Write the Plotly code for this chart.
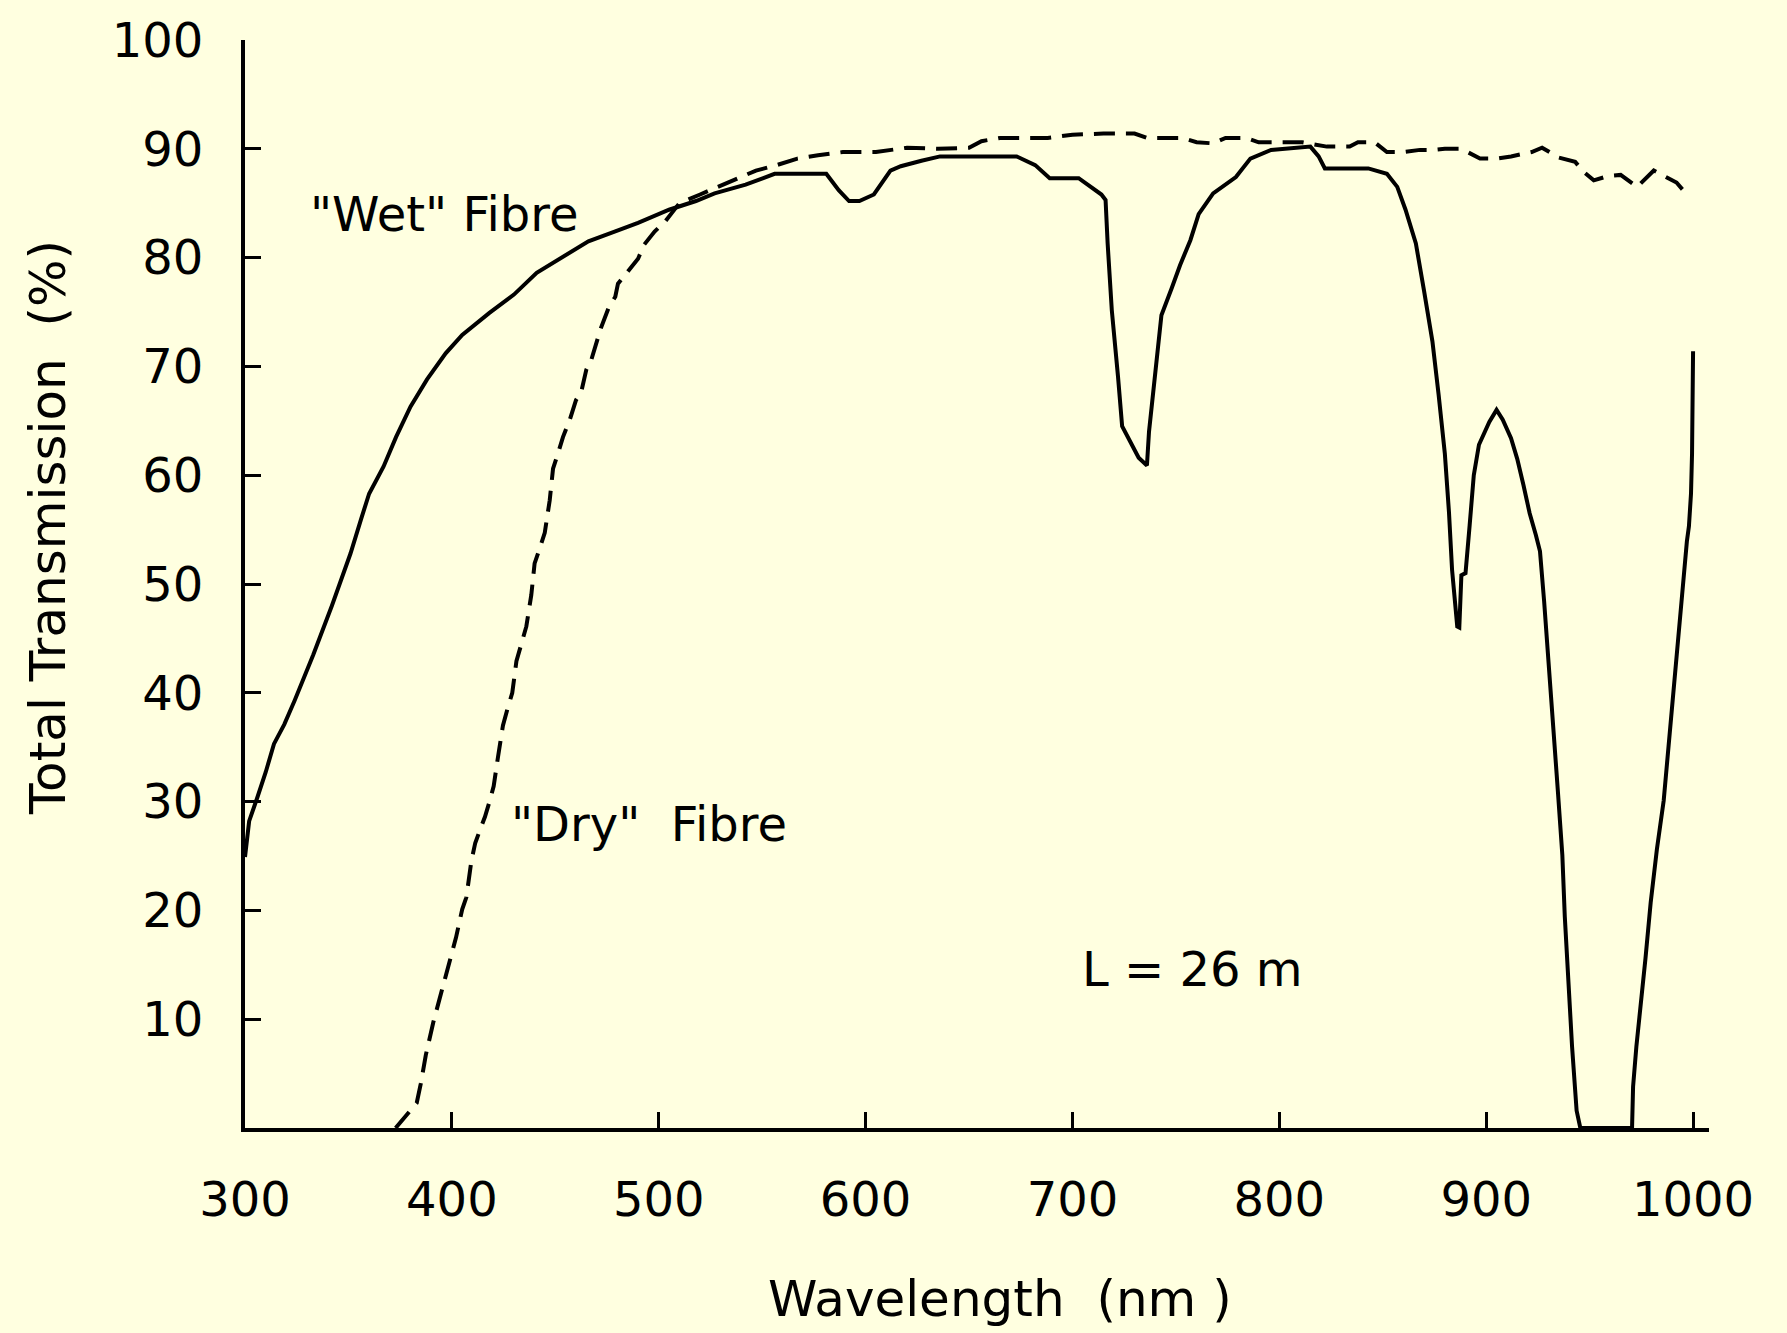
import plotly.graph_objects as go

# Wavelength (nm) and total transmission (%)
wet_nm = [300, 302, 306, 310, 314, 319, 324, 333, 342, 351, 356, 360, 367, 373, 380, 388, 397,
          405, 418, 430, 441, 454, 466, 479, 490, 505, 518, 527, 542, 556, 581, 587, 592, 597,
          604, 612, 617, 627, 636, 673, 682, 689, 703, 714, 716, 717, 719, 722, 724, 732, 736,
          737, 739, 741, 743, 748, 752, 757, 761, 768, 779, 786, 796, 815, 819, 822, 843, 852,
          857, 861, 866, 870, 874, 877, 880, 882, 883.5, 886, 887, 888, 890, 892, 894, 896.5,
          899, 901.5, 905, 908, 912, 915, 918, 921, 924, 926, 928, 930, 932.5, 934.7, 936.8,
          938, 939.5, 941.5, 943.7, 945.5, 970.5, 971, 972.6, 974.8, 977, 979.5, 982.5, 985.8,
          988, 990.3, 992.5, 994.7, 997, 998, 999, 999.5, 1000]
wet_pct = [24.9, 28.2, 30.4, 32.7, 35.3, 37.1, 39.3, 43.5, 48.0, 52.8, 55.9, 58.3, 60.8, 63.5,
           66.3, 68.8, 71.2, 72.9, 74.9, 76.6, 78.6, 80.1, 81.5, 82.4, 83.2, 84.4, 85.2, 85.9,
           86.7, 87.7, 87.7, 86.2, 85.2, 85.2, 85.8, 88.0, 88.4, 88.9, 89.3, 89.3, 88.5, 87.3,
           87.3, 85.8, 85.3, 81.3, 75.2, 69.1, 64.5, 61.6, 60.9, 64.0, 67.7, 71.8, 74.7, 77.2,
           79.3, 81.6, 84.0, 85.9, 87.4, 89.1, 89.9, 90.2, 89.3, 88.2, 88.2, 87.7, 86.5, 84.4,
           81.3, 76.9, 72.3, 67.4, 62.0, 56.6, 51.3, 46.1, 46.0, 50.8, 51.0, 55.4, 60.0, 62.8,
           63.8, 64.9, 66.0, 65.1, 63.4, 61.5, 59.1, 56.5, 54.5, 53.0, 48.4, 42.7, 36.6, 30.8,
           25.1, 19.4, 13.6, 7.5, 1.6, 0.0, 0.0, 3.8, 7.5, 11.2, 15.6, 20.7, 25.6, 30.1, 35.0,
           39.6, 44.4, 49.0, 53.9, 55.3, 58.3, 62.0, 71.4]

dry_nm = [372.8, 378.3, 383, 385, 387.4, 391, 394, 398.5, 402, 405, 407, 409.4, 411.3, 414,
          416, 418.2, 420.2, 422.3, 424.7, 427, 429.2, 431.2, 433.6, 436, 438.4, 440, 442.5,
          444.9, 447.3, 448.9, 451.3, 453.7, 457, 460, 462.6, 465, 467.4, 470, 472, 476, 479,
          480.3, 484.3, 490, 493, 498, 503, 510, 520, 530, 539, 547, 557, 567, 577, 589, 605,
          620, 635, 650, 656, 665, 688, 700, 715, 730, 736, 753, 760, 768, 774, 784, 790, 811,
          823, 834, 838, 846, 852, 860, 868, 875, 880, 888, 897, 905, 912, 922, 927, 935, 943,
          947, 952, 959, 965, 973, 981, 986, 992, 997]
dry_pct = [0.0, 1.2, 2.3, 4.1, 6.7, 9.7, 11.9, 15.3, 17.5, 20.1, 21.2, 24.5, 26.2, 27.6, 28.6,
           30.0, 31.4, 34.1, 37.0, 38.6, 40.0, 42.9, 44.5, 46.1, 49.0, 51.9, 53.3, 54.7, 57.7,
           60.6, 62.0, 63.5, 65.1, 66.9, 67.7, 69.7, 70.6, 72.4, 73.5, 75.5, 76.4, 77.6, 78.6,
           79.9, 81.2, 82.4, 83.3, 85.0, 85.8, 86.6, 87.3, 88.0, 88.5, 89.1, 89.4, 89.7, 89.7,
           90.1, 90.0, 90.1, 90.7, 91.0, 91.0, 91.3, 91.4, 91.4, 91.0, 91.0, 90.6, 90.5, 91.0,
           91.0, 90.6, 90.6, 90.2, 90.2, 90.6, 90.6, 89.7, 89.7, 89.9, 89.9, 90.0, 90.0, 89.1,
           89.1, 89.3, 89.7, 90.1, 89.2, 88.8, 87.9, 87.1, 87.5, 87.6, 86.5, 88.0, 87.5, 86.9,
           85.8]

x_ticks = [300, 400, 500, 600, 700, 800, 900, 1000]
y_ticks = [10, 20, 30, 40, 50, 60, 70, 80, 90, 100]

BG = "#FFFFE0"
FONT = "DejaVu Sans"
FS = 48

fig = go.Figure()
fig.add_trace(go.Scatter(x=wet_nm, y=wet_pct, mode="lines", name='"Wet" Fibre',
                         line=dict(color="black", width=4)))
fig.add_trace(go.Scatter(x=dry_nm, y=dry_pct, mode="lines", name='"Dry" Fibre',
                         line=dict(color="black", width=4, dash="21px,11px")))

fig.update_layout(
    width=1787, height=1333,
    margin=dict(l=245, r=78, t=40, b=205),
    paper_bgcolor=BG, plot_bgcolor=BG,
    showlegend=False,
    font=dict(family=FONT, size=FS, color="black"),
)
fig.update_xaxes(range=[300, 1007.7], tickvals=x_ticks, ticks="inside", ticklen=16,
                 tickwidth=3, tickcolor="black", showline=True, linewidth=4,
                 linecolor="black", showgrid=False, zeroline=False,
                 ticklabelstandoff=26, tickfont=dict(family=FONT, size=FS))
fig.update_yaxes(range=[0, 100], tickvals=y_ticks, ticks="inside", ticklen=16,
                 tickwidth=3, tickcolor="black", showline=True, linewidth=4,
                 linecolor="black", showgrid=False, zeroline=False,
                 ticklabelstandoff=28, tickfont=dict(family=FONT, size=FS))

ann = dict(showarrow=False, font=dict(family=FONT, size=FS, color="black"))
fig.add_annotation(x=330.4, y=84.0, xref="x", yref="y", text='"Wet" Fibre',
                   xanchor="left", yanchor="middle", **ann)
fig.add_annotation(x=427.6, y=27.9, xref="x", yref="y", text='"Dry"  Fibre',
                   xanchor="left", yanchor="middle", **ann)
fig.add_annotation(x=703.6, y=14.6, xref="x", yref="y", text="L = 26 m",
                   xanchor="left", yanchor="middle", **ann)
fig.add_annotation(x=(1000 - 245) / 1464, y=(1128 - 1299) / 1088, xref="paper", yref="paper",
                   text="Wavelength  (nm )", xanchor="center", yanchor="middle",
                   showarrow=False, font=dict(family=FONT, size=50, color="black"))
fig.add_annotation(x=(48 - 245) / 1464, y=(1128 - 527) / 1088, xref="paper", yref="paper",
                   text="Total Transmission  (%)", textangle=-90,
                   xanchor="center", yanchor="middle",
                   showarrow=False, font=dict(family=FONT, size=50, color="black"))

fig.write_html("out.html")
